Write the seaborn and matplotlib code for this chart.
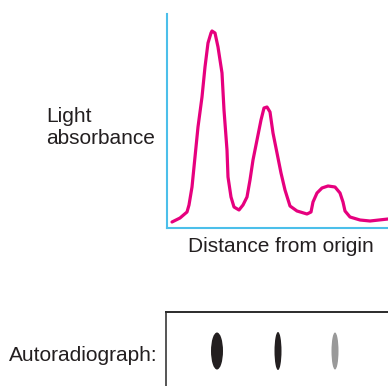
import matplotlib
matplotlib.use("Agg")
import matplotlib.pyplot as plt
import seaborn as sns
import pandas as pd
from matplotlib.patches import Ellipse

sns.set_theme(style="white")
plt.rcParams['font.family'] = ['Liberation Sans', 'DejaVu Sans']

# Densitometer trace (distance from origin, light absorbance)
distance = [5, 13, 20, 22, 25, 28, 31, 35, 38, 41, 44, 45, 48, 51, 55, 57, 60, 61, 64, 67,
            72, 76, 80, 83, 86, 90, 94, 97, 100, 103, 106, 110, 114, 118, 123, 130, 140, 144,
            146, 150, 155, 161, 168, 173, 176, 178, 183, 193, 203, 221]
absorbance = [6, 10, 16, 23, 41, 71, 101, 131, 161, 185, 195, 197, 195, 181, 155, 118, 78, 51, 31, 21,
              18, 23, 31, 48, 68, 88, 108, 120, 121, 116, 95, 75, 55, 38, 22, 17, 14, 16,
              26, 35, 40, 42, 41, 35, 26, 17, 11, 8, 7, 9]

# Autoradiograph spots
spot_pos = [51, 112, 169]
spot_width = [12, 7, 7]
spot_height = [37, 38, 37]
spot_color = ["#231f20", "#231f20", "#999999"]

W, H = 388, 386
fig = plt.figure(figsize=(W / 100, H / 100), dpi=100)

# Top panel: trace
ax = fig.add_axes([167 / W, 1 - 228 / H, 221 / W, 214 / H])
df = pd.DataFrame({"distance": distance, "absorbance": absorbance})
sns.lineplot(data=df, x="distance", y="absorbance", sort=False, ax=ax,
             color="#e6007e", linewidth=2.3, solid_joinstyle="round",
             solid_capstyle="round", clip_on=False)
ax.set_xlim(0, 221)
ax.set_ylim(0, 214)
ax.set_xticks([])
ax.set_yticks([])
ax.set_xlabel("")
ax.set_ylabel("")
for s in ["top", "right"]:
    ax.spines[s].set_visible(False)
for s in ["left", "bottom"]:
    ax.spines[s].set_color("#4cbfea")
    ax.spines[s].set_linewidth(1.5)
ax.patch.set_alpha(0)

# Bottom panel: autoradiograph strip
ax2 = fig.add_axes([166 / W, 0, (W - 166) / W, 74 / H])
ax2.set_xlim(0, W - 166)
ax2.set_ylim(0, 74)
for p, w, h, c in zip(spot_pos, spot_width, spot_height, spot_color):
    ax2.add_patch(Ellipse((p, 35), w, h, facecolor=c, edgecolor="none"))
ax2.set_xticks([])
ax2.set_yticks([])
for s in ["bottom", "right"]:
    ax2.spines[s].set_visible(False)
ax2.spines["top"].set_color("#2b2b2b")
ax2.spines["top"].set_linewidth(1.4)
ax2.spines["left"].set_color("#555555")
ax2.spines["left"].set_linewidth(1.4)
ax2.patch.set_alpha(0)

fs = 15
fig.text(46 / W, 1 - 122 / H, "Light", fontsize=fs, color="#231f20", va="baseline", ha="left")
fig.text(46 / W, 1 - 144.5 / H, "absorbance", fontsize=fs, color="#231f20", va="baseline", ha="left")
fig.text(281 / W, 1 - 252.5 / H, "Distance from origin", fontsize=fs, color="#231f20",
         va="baseline", ha="center")
fig.text(9 / W, 1 - 361 / H, "Autoradiograph:", fontsize=fs, color="#231f20",
         va="baseline", ha="left")

fig.savefig("out.png", dpi=100)
